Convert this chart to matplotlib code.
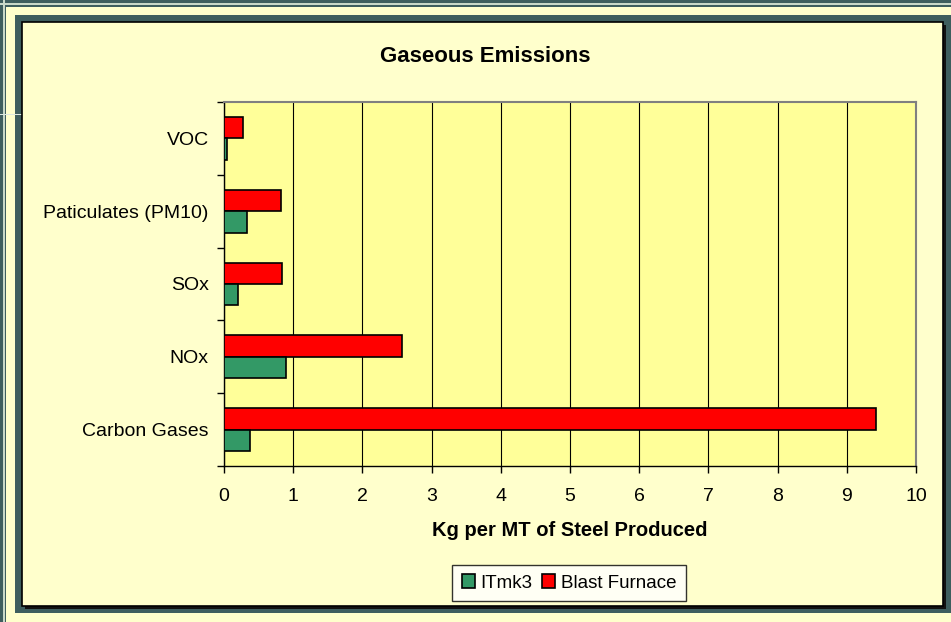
import numpy as np
import matplotlib
matplotlib.use("Agg")
from matplotlib import pyplot as plt
from matplotlib.patches import Rectangle

categories = ["Carbon Gases", "NOx", "SOx", "Paticulates (PM10)", "VOC"]
itmk3 = [0.37, 0.9, 0.2, 0.33, 0.04]
blast_furnace = [9.42, 2.57, 0.84, 0.83, 0.28]

W, H = 951, 622
plt.rcParams['font.family'] = ['Liberation Sans', 'DejaVu Sans']

fig = plt.figure(figsize=(W / 100, H / 100), dpi=100)
fig.patch.set_facecolor("#3E5E5E")


def px_rect(x0, y0, x1, y1, **kw):
    # rectangle in pixel coords (origin top-left)
    r = Rectangle((x0 / W, 1 - y1 / H), (x1 - x0) / W, (y1 - y0) / H,
                  transform=fig.transFigure, zorder=-5, **kw)
    fig.add_artist(r)
    return r


# frame decorations
px_rect(6, 7, W + 5, H + 5, facecolor="#FFFFCC", edgecolor="none")
px_rect(15, 15, W + 5, 613, facecolor="#3E5E5E", edgecolor="none")
px_rect(3, -2, 5, H + 2, facecolor="#C8D8C8", edgecolor="none")
px_rect(-2, 3, W + 2, 5, facecolor="#C8D8C8", edgecolor="none")
px_rect(0, 114, 22, 115, facecolor="#DDE8E0", edgecolor="none")
# chart panel with shadow
px_rect(25, 25, 946, 609, facecolor="#111111", edgecolor="none")
px_rect(22, 22, 943, 606, facecolor="#FFFFCC", edgecolor="black", linewidth=1.2)

ax = fig.add_axes([224 / W, 1 - 466 / H, 692 / W, 364 / H])
ax.set_facecolor("#FFFF99")

y = np.arange(len(categories))
h = 0.295
ax.barh(y + h / 2, blast_furnace, height=h, color="#FF0000", edgecolor="black",
        linewidth=1.2, label="Blast Furnace", zorder=3)
ax.barh(y - h / 2, itmk3, height=h, color="#339966", edgecolor="black",
        linewidth=1.2, label="ITmk3", zorder=3)

ax.set_xlim(0, 10)
ax.set_ylim(-0.5, len(categories) - 0.5)
ax.set_xticks(np.arange(0, 11, 1))
ax.set_yticks(y)
ax.set_yticklabels(categories)
ax.set_yticks(np.arange(-0.5, len(categories), 1), minor=True)
ax.tick_params(axis="y", which="major", length=0, pad=11, labelsize=14)
ax.tick_params(axis="y", which="minor", length=5, width=1, color="black")
ax.tick_params(axis="x", length=5, width=1, labelsize=14, pad=11)
ax.grid(axis="x", color="black", linewidth=0.8, zorder=0)
ax.set_axisbelow(True)
for s in ["top", "right"]:
    ax.spines[s].set_color("#808080")
    ax.spines[s].set_linewidth(1.5)
for s in ["left", "bottom"]:
    ax.spines[s].set_color("black")
    ax.spines[s].set_linewidth(1)

ax.set_xlabel("Kg per MT of Steel Produced", fontsize=14.5, fontweight="bold", labelpad=11)
fig.text(485 / W, 1 - 57 / H, "Gaseous Emissions", fontsize=16, fontweight="bold",
         ha="center", va="center")

handles, labels = ax.get_legend_handles_labels()
leg = fig.legend(handles[::-1], labels[::-1], loc="center", ncol=2,
                 bbox_to_anchor=(569 / W, 1 - 583 / H), fontsize=13.5,
                 frameon=True, fancybox=False, edgecolor="black",
                 handlelength=0.7, handleheight=0.7, handletextpad=0.3,
                 columnspacing=0.5, borderpad=0.5)
leg.get_frame().set_linewidth(1)
leg.get_frame().set_facecolor("white")

fig.savefig("out.png", dpi=100, facecolor=fig.get_facecolor())
